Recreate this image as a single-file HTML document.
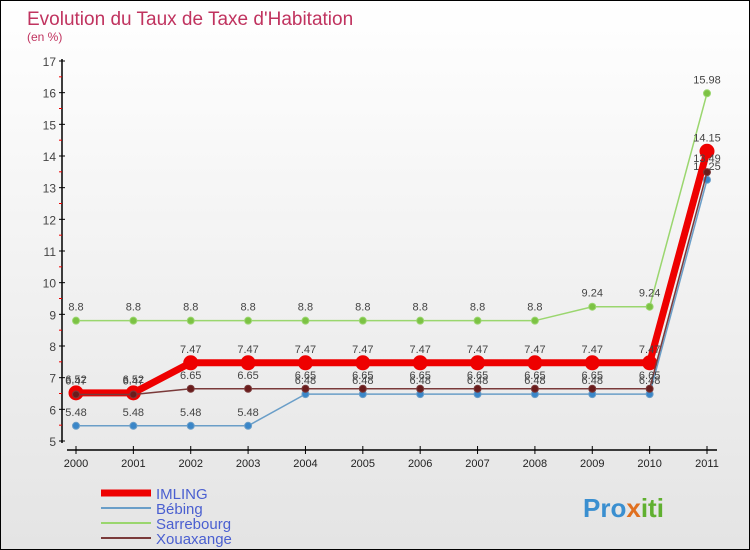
<!DOCTYPE html>
<html><head><meta charset="utf-8"><style>
body{margin:0}
#c{width:748px;height:548px;border:1px solid #000;background:linear-gradient(#fff,#e4e4e4);position:relative;font-family:"Liberation Sans",sans-serif;overflow:hidden}
</style></head><body>
<div id="c">
<svg id="s" width="748" height="548" xmlns="http://www.w3.org/2000/svg">
<text x="26" y="24" font-size="19" fill="#c0335f">Evolution du Taux de Taxe d'Habitation</text>
<text x="26" y="40" font-size="12" fill="#c0335f">(en %)</text>
<g id="axes"></g><g id="series"></g>
<g>
<line x1="100" y1="492" x2="150" y2="492" stroke="#e00" stroke-width="7"/>
<text x="155" y="498" font-size="15" fill="#4a5fd0">IMLING</text>
<line x1="100" y1="507" x2="150" y2="507" stroke="#6a9ec8" stroke-width="2"/>
<text x="155" y="513" font-size="15" fill="#4a5fd0">Bébing</text>
<line x1="100" y1="522" x2="150" y2="522" stroke="#9ad66e" stroke-width="2"/>
<text x="155" y="528" font-size="15" fill="#4a5fd0">Sarrebourg</text>
<line x1="100" y1="537" x2="150" y2="537" stroke="#7a3a3a" stroke-width="2"/>
<text x="155" y="543" font-size="15" fill="#4a5fd0">Xouaxange</text>
</g>
<text x="582" y="516" font-size="26" font-weight="bold" fill="#3a8fd0">Pro<tspan fill="#e07020">x</tspan><tspan fill="#60b030">iti</tspan></text>
</svg>
</div>
<script>
const years=[2000,2001,2002,2003,2004,2005,2006,2007,2008,2009,2010,2011];
const yTicks=[5,6,7,8,9,10,11,12,13,14,15,16,17];
const imling=[6.52,6.52,7.47,7.47,7.47,7.47,7.47,7.47,7.47,7.47,7.47,14.15];
const bebing=[5.48,5.48,5.48,5.48,6.48,6.48,6.48,6.48,6.48,6.48,6.48,13.25];
const sarrebourg=[8.8,8.8,8.8,8.8,8.8,8.8,8.8,8.8,8.8,9.24,9.24,15.98];
const xouaxange=[6.47,6.47,6.65,6.65,6.65,6.65,6.65,6.65,6.65,6.65,6.65,13.49];
const NS="http://www.w3.org/2000/svg";
const X=i=>75+i*(706-75)/11;
const Y=v=>440-(v-5)*(380/12);
function mk(t,a,p){const e=document.createElementNS(NS,t);for(const k in a)e.setAttribute(k,a[k]);p.appendChild(e);return e;}
const ax=document.getElementById('axes');
let l=mk('line',{x1:61,y1:58,x2:61,y2:442,stroke:'#000','stroke-width':1.5},ax);


l=mk('line',{x1:66,y1:449,x2:716,y2:449,stroke:'#000','stroke-width':1.5},ax);


yTicks.forEach((v,i)=>{
 mk('line',{x1:58,y1:Y(v),x2:64,y2:Y(v),stroke:'#000'},ax);
 if(i<yTicks.length-1) mk('line',{x1:58,y1:Y(v+0.5),x2:61,y2:Y(v+0.5),stroke:'#e00'},ax);
 const t=mk('text',{x:55,y:Y(v)+5,'font-size':12,fill:'#444','text-anchor':'end'},ax);
 t.textContent=v;
 
 
});
years.forEach((yr,i)=>{
 mk('line',{x1:X(i),y1:445,x2:X(i),y2:453,stroke:'#000'},ax);
 const t=mk('text',{x:X(i),y:466,'font-size':11,fill:'#222','text-anchor':'middle'},ax);
 t.textContent=yr;
 
 
});
const sg=document.getElementById('series');
function draw(name,vals,color,w,r,dot){
 const g=mk('g',{},sg);
 
 
 const p=mk('polyline',{points:vals.map((v,i)=>X(i)+','+Y(v)).join(' '),fill:'none',stroke:color,'stroke-width':w},g);
 
 
 vals.forEach((v,i)=>{
  const c=mk('circle',{cx:X(i),cy:Y(v),r:r,fill:dot,stroke:color,'stroke-width':1},g);
  
  
  const t=mk('text',{x:X(i),y:Y(v)-10,'font-size':11,fill:'#444','text-anchor':'middle'},g);
  t.textContent=v;
  
  
 });
}
draw('sarrebourg',sarrebourg,'#9ad66e',1.5,3.5,'#7cc244');
draw('bebing',bebing,'#6a9ec8',1.5,3.5,'#3a86c8');
draw('imling',imling,'#ee0000',7,7,'#ee0000');
draw('xouaxange',xouaxange,'#7a3a3a',1.5,3.5,'#6a1c1c');
</script>
</body></html>
